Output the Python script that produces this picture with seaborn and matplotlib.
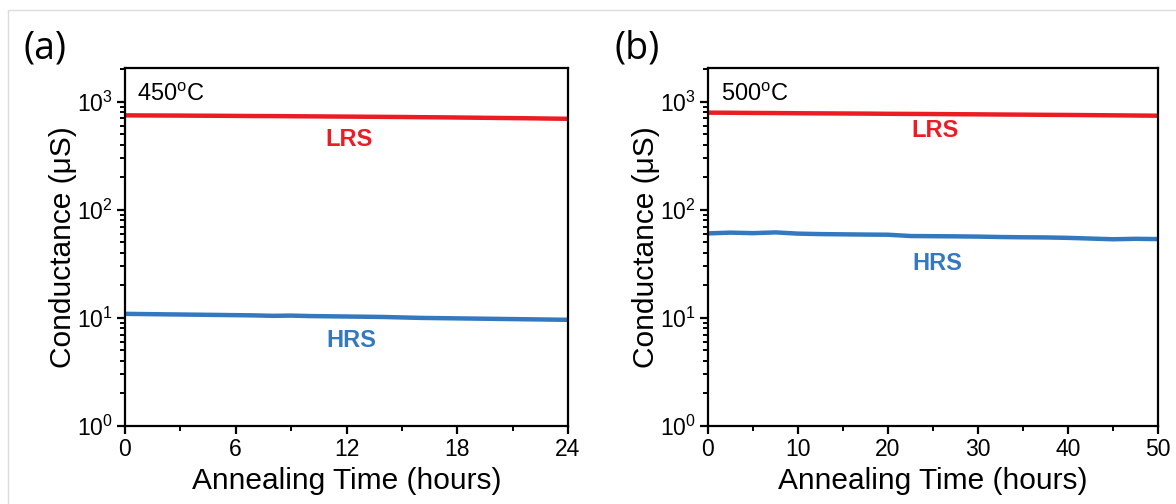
import numpy as np
import pandas as pd
import matplotlib
matplotlib.use("Agg")
import matplotlib.pyplot as plt
from matplotlib.patches import Rectangle
from matplotlib.ticker import LogLocator, NullFormatter, MultipleLocator
import seaborn as sns

# panel (a): 450 C anneal, 0-24 h
time_a = [0, 1, 2, 3, 4, 5, 6, 7, 8, 9, 10, 11, 12, 13, 14, 15, 16, 17, 18, 19, 20, 21, 22, 23, 24]
lrs_a = [748, 746, 745, 744, 742, 741, 739, 737, 736, 734, 732, 730, 728, 726, 724, 722, 719, 717, 714, 711, 708, 705, 702, 698, 695]
hrs_a = [10.9, 10.85, 10.8, 10.75, 10.7, 10.65, 10.6, 10.55, 10.45, 10.5, 10.4, 10.35, 10.3, 10.25, 10.2, 10.1, 10.0, 9.95, 9.9, 9.85, 9.8, 9.75, 9.7, 9.65, 9.6]

# panel (b): 500 C anneal, 0-50 h
time_b = [0, 2.5, 5, 7.5, 10, 12.5, 15, 17.5, 20, 22.5, 25, 27.5, 30, 32.5, 35, 37.5, 40, 42.5, 45, 47.5, 50]
lrs_b = [792, 790, 787, 785, 782, 780, 778, 776, 773, 771, 769, 766, 764, 761, 759, 756, 754, 751, 748, 745, 742]
hrs_b = [60.5, 61.5, 60.8, 61.8, 60.2, 59.6, 59.3, 59.0, 58.8, 57.2, 57.0, 56.8, 56.5, 56.0, 55.7, 55.5, 55.0, 54.2, 53.4, 53.9, 53.6]

panels = [
    ("(a)", "450$^{\\rm o}$C", time_a, lrs_a, hrs_a, 24, 6, 3),
    ("(b)", "500$^{\\rm o}$C", time_b, lrs_b, hrs_b, 50, 10, 5),
]

sns.set_theme(style="ticks")
plt.rcParams["font.family"] = ["Liberation Sans", "DejaVu Sans"]
plt.rcParams["mathtext.fontset"] = "custom"
plt.rcParams["mathtext.rm"] = "Liberation Sans"
plt.rcParams["mathtext.it"] = "Liberation Sans:italic"
plt.rcParams["mathtext.bf"] = "Liberation Sans:bold"
plt.rcParams["text.color"] = "black"
plt.rcParams["axes.labelcolor"] = "black"
plt.rcParams["xtick.color"] = "black"
plt.rcParams["ytick.color"] = "black"

red = "#ec1c24"
blue = "#3479c0"

fig = plt.figure(figsize=(11.76, 5.04), dpi=100)
fig.patches.append(Rectangle((8 / 1176, -0.1), 1.2, 1.1 - 10 / 504,
                             transform=fig.transFigure, fill=False,
                             edgecolor="#dcdcdc", linewidth=1.0))

lefts = [125 / 1176, 708 / 1176]
widths = [(568 - 125) / 1176, (1158 - 708) / 1176]
bottom = 1 - 426 / 504
height = (426 - 68) / 504

for i, (tag, temp, t, lrs, hrs, xmax, major, minor) in enumerate(panels):
    ax = fig.add_axes([lefts[i], bottom, widths[i], height])
    df = pd.DataFrame({"time": t + t, "G": lrs + hrs,
                       "state": ["LRS"] * len(t) + ["HRS"] * len(t)})
    sns.lineplot(data=df, x="time", y="G", hue="state",
                 palette={"LRS": red, "HRS": blue}, linewidth=3.2,
                 legend=False, ax=ax)
    ax.set_yscale("log")
    ax.set_ylim(1, 2050)
    ax.set_xlim(0, xmax)
    ax.xaxis.set_major_locator(MultipleLocator(major))
    ax.xaxis.set_minor_locator(MultipleLocator(minor))
    ax.yaxis.set_major_locator(LogLocator(base=10, numticks=10))
    ax.yaxis.set_minor_locator(LogLocator(base=10, subs=np.arange(2, 10), numticks=10))
    ax.yaxis.set_minor_formatter(NullFormatter())
    for s in ax.spines.values():
        s.set_linewidth(1.6)
        s.set_color("black")
    ax.tick_params(which="major", direction="out", length=6, width=1.6,
                   labelsize=16.5, pad=3, top=False, right=False)
    ax.tick_params(which="minor", direction="out", length=3.5, width=1.4,
                   top=False, right=False)
    ax.set_xlabel("Annealing Time (hours)", fontsize=21.5, labelpad=4)
    ax.set_ylabel("Conductance (\u03bcS)", fontsize=21.5, labelpad=0)
    ax.text(0.028, 0.955, temp, transform=ax.transAxes, fontsize=17,
            va="top", ha="left")
    lrs_y = 0.80 if i == 0 else 0.825
    hrs_y = 0.24 if i == 0 else 0.455
    ax.text(0.505, lrs_y, "LRS", transform=ax.transAxes, fontsize=17,
            fontweight="bold", color=red, ha="center", va="center")
    ax.text(0.51, hrs_y, "HRS", transform=ax.transAxes, fontsize=17,
            fontweight="bold", color=blue, ha="center", va="center")
    fig.text([24, 614][i] / 1176, 1 - 48 / 504, tag, fontsize=27,
             ha="left", va="center", family=["Open Sans", "DejaVu Sans"])

fig.savefig("out.png", dpi=100)
